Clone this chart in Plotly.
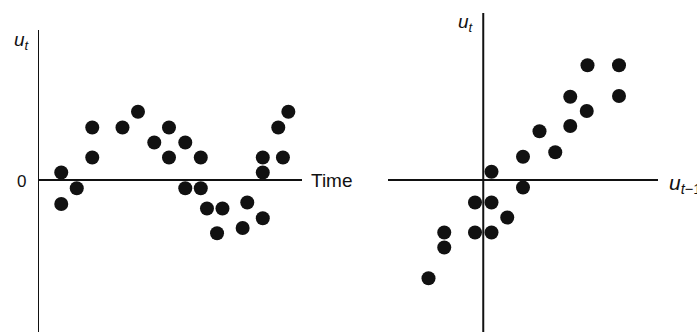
import plotly.graph_objects as go

# Left panel: residuals u_t plotted against time
time_t = [1.5, 1.5, 2.5, 3.5, 3.5, 5.45, 6.45, 7.5, 8.45, 8.45, 9.5, 9.5,
          10.5, 10.5, 10.9, 11.55, 11.9, 13.2, 13.5, 14.5, 14.5, 14.5,
          15.5, 15.8, 16.15]
resid_t = [0.5, -1.6, -0.55, 3.5, 1.5, 3.5, 4.55, 2.5, 3.5, 1.5, 2.5, -0.55,
           1.5, -0.55, -1.9, -3.55, -1.9, -3.2, -1.5, 0.5, 1.5, -2.55,
           3.5, 1.5, 4.55]

# Right panel: u_t plotted against u_{t-1}
resid_lag = [6.95, 9.05, 9.05, 5.8, 6.9, 5.8, 3.75, 4.8, 2.65, 0.55, 2.65,
             -0.55, 0.55, 1.6, -2.6, -0.55, 0.55, -2.6, -3.65]
resid_cur = [7.65, 7.65, 5.6, 5.55, 4.6, 3.6, 3.25, 1.85, 1.55, 0.55, -0.5,
             -1.5, -1.5, -2.5, -3.5, -3.5, -3.5, -4.5, -6.55]

W, H = 697, 332
FONT = "Liberation Sans, Arial, sans-serif"
INK = "#111111"

fig = go.Figure()
dot = dict(size=14, color=INK, line=dict(width=0))
fig.add_trace(go.Scatter(x=time_t, y=resid_t, mode="markers", marker=dot,
                         xaxis="x", yaxis="y", cliponaxis=False, hoverinfo="skip"))
fig.add_trace(go.Scatter(x=resid_lag, y=resid_cur, mode="markers", marker=dot,
                         xaxis="x2", yaxis="y2", cliponaxis=False, hoverinfo="skip"))

def bare(**kw):
    d = dict(showgrid=False, zeroline=False, showline=False, showticklabels=False,
             ticks="", fixedrange=True)
    d.update(kw)
    return d

fig.update_layout(
    width=W, height=H,
    margin=dict(l=0, r=0, t=0, b=0),
    paper_bgcolor="white", plot_bgcolor="rgba(0,0,0,0)",
    showlegend=False,
    xaxis=bare(domain=[38 / W, 302 / W], range=[0, 17.03], anchor="y"),
    yaxis=bare(domain=[0, 302 / H], range=[-10.13, 10.0], anchor="x"),
    xaxis2=bare(domain=[388 / W, 658 / W], range=[-6.35, 11.65], anchor="y2"),
    yaxis2=bare(domain=[0, 319 / H], range=[-10.13, 11.13], anchor="x2"),
)

# Axis lines through the origin of each panel
axis_line = dict(color=INK, width=2)
for xr, yr in (("x", "y"), ("x2", "y2")):
    fig.add_shape(type="line", xref=xr, yref=f"{yr} domain", x0=0, x1=0, y0=0, y1=1,
                  line=axis_line)
    fig.add_shape(type="line", xref=f"{xr} domain", yref=yr, x0=0, x1=1, y0=0, y1=0,
                  line=axis_line)

lab = dict(family=FONT, size=19, color=INK)
ann = [
    dict(text="<i>u</i><sub><i>t</i></sub>", x=12, y=H - 41, xanchor="left"),
    dict(text="0", x=21, y=H - 181, xanchor="center", size=17),
    dict(text="Time", x=309, y=H - 180, xanchor="left"),
    dict(text="<i>u</i><sub><i>t</i></sub>", x=456, y=H - 23, xanchor="left"),
    dict(text="<i>u</i><sub><i>t</i>−1</sub>", x=667, y=H - 184, xanchor="left",
         size=21),
]
for a in ann:
    f = dict(lab)
    if "size" in a:
        f["size"] = a.pop("size")
    fig.add_annotation(xref="paper", yref="paper", x=a["x"] / W, y=a["y"] / H,
                       text=a["text"], showarrow=False, xanchor=a["xanchor"],
                       yanchor="middle", font=f)

fig.write_html("out.html")
